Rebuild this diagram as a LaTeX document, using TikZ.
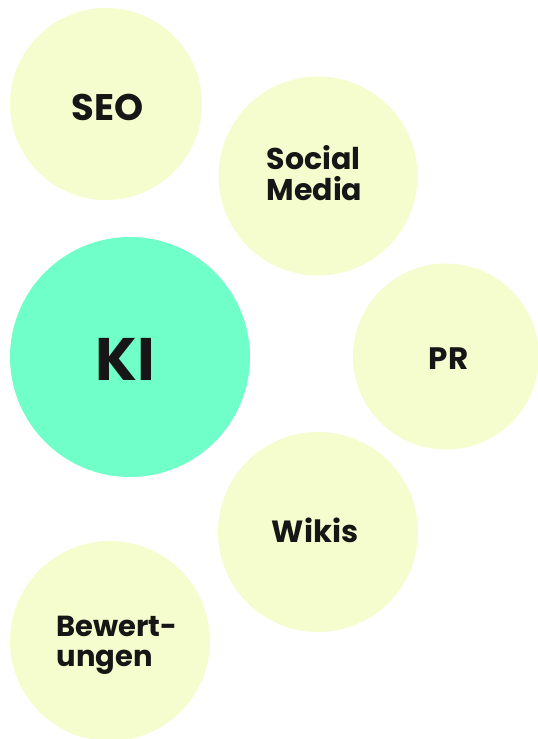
\documentclass[tikz,border=0pt]{standalone}
\usepackage{fontspec}
\setmainfont{Poppins}
\usepackage{xcolor}
\usepackage{tikz}

\definecolor{bubbleyellow}{RGB}{245,253,206}
\definecolor{bubblegreen}{RGB}{112,255,200}
\definecolor{labelink}{RGB}{22,22,22}

\tikzset{
  bubble/.style={fill=bubbleyellow},
  kibubble/.style={fill=bubblegreen},
  label/.style={inner sep=0pt, text=labelink, font=\bfseries, align=left}
}

\begin{document}
\begin{tikzpicture}[x=0.75pt,y=0.75pt,yscale=-1,xscale=1]
        \useasboundingbox (0,0) rectangle (537,739);
        %Shape: Circle [SEO]
        \fill [bubble] (106,104) circle (96) ;
        %Shape: Circle [Social Media]
        \fill [bubble] (318,176) circle (99.5) ;
        %Shape: Circle [KI]
        \fill [kibubble] (130,357) circle (120) ;
        %Shape: Circle [PR]
        \fill [bubble] (446,356.5) circle (93) ;
        %Shape: Circle [Wikis]
        \fill [bubble] (318,532) circle (100) ;
        %Shape: Circle [Bewertungen]
        \fill [bubble] (110,641) circle (100) ;
        % Text Node
        \node (seo) [label, font=\bfseries\fontsize{27.75}{30}\selectfont] at (107.5,107) {SEO};
        % Text Node
        \node (social) [label, font=\bfseries\fontsize{22.5}{23}\selectfont] at (314.5,173) {Social\\Media};
        % Text Node
        \node (ki) [label, font=\bfseries\fontsize{45}{50}\selectfont] at (125.3,359.5) {KI};
        % Text Node
        \node (pr) [label, font=\bfseries\fontsize{23.25}{25}\selectfont] at (448.5,359) {PR};
        % Text Node
        \node (wikis) [label, font=\bfseries\fontsize{23}{26}\selectfont] at (315,530.5) {Wikis};
        % Text Node
        \node (bewertungen) [label, font=\bfseries\fontsize{21.75}{22.5}\selectfont] at (117,645) {Bewert-\\ungen};
\end{tikzpicture}
\end{document}
